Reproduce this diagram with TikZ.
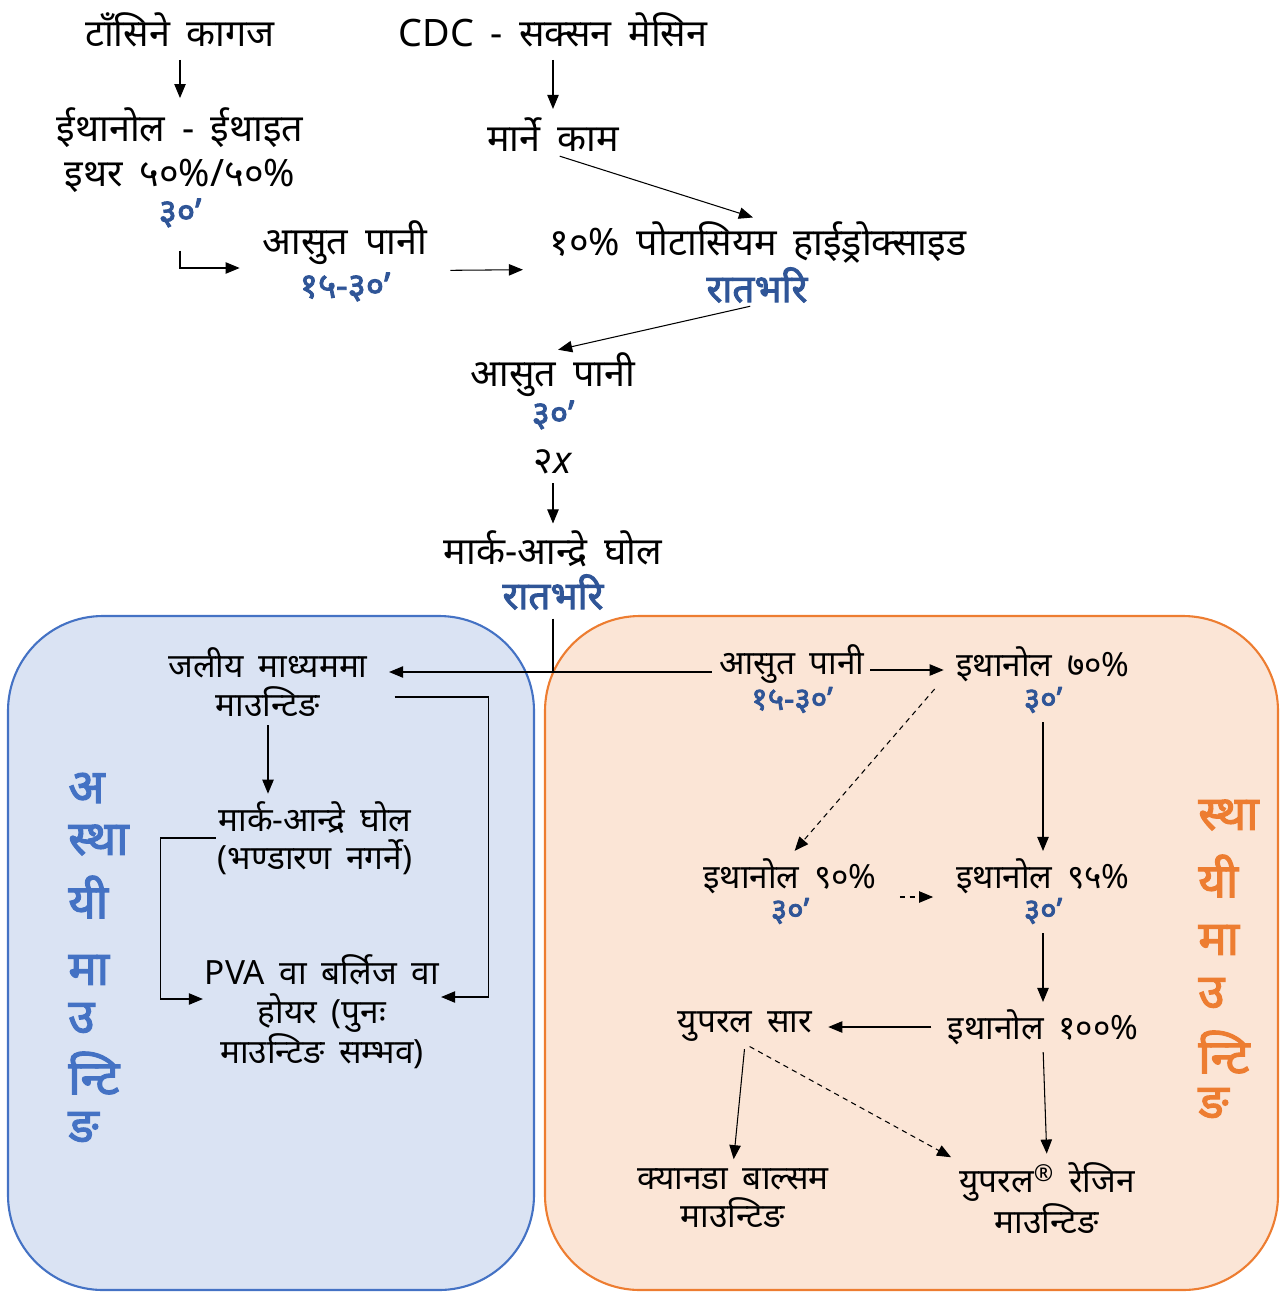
\documentclass[tikz,border=0pt]{standalone}
\usepackage{fontspec}
\setmainfont[Script=Devanagari, WordSpace=1.7, BoldFont={Noto Sans}, BoldFeatures={FakeBold=2.5}]{Noto Sans}
\usetikzlibrary{arrows.meta}

\definecolor{stepblue}{HTML}{2F5597}
\definecolor{tempblue}{HTML}{4472C4}
\definecolor{tempfill}{HTML}{DAE3F3}
\definecolor{permorange}{HTML}{ED7D31}
\definecolor{permfill}{HTML}{FBE5D6}

\begin{document}
\begin{tikzpicture}[x=0.02cm, y=-0.02cm,
    txt/.style={font=\fontsize{21.5}{26}\selectfont, align=center, inner sep=1pt},
    boxtxt/.style={font=\fontsize{19}{22}\selectfont, align=center, inner sep=1pt},
    tm/.style={font=\fontsize{20}{22}\selectfont\bfseries, text=stepblue, inner sep=1pt},
    boxtm/.style={tm, font=\fontsize{18}{20}\selectfont\bfseries},
    night/.style={font=\fontsize{22}{24}\selectfont\bfseries, text=stepblue, inner sep=1pt},
    arr/.style={-{Triangle[length=8pt,width=6.5pt]}, line width=0.6pt},
    dasharr/.style={arr, dash pattern=on 3pt off 2.5pt}]
  \useasboundingbox (0,0) rectangle (1282,1292);

  % the two mounting boxes
  \draw[tempblue, fill=tempfill, line width=1.2pt, rounded corners=1.9cm] (8,616) rectangle (534,1290);
  \draw[permorange, fill=permfill, line width=1.2pt, rounded corners=1.9cm] (545,616) rectangle (1278,1290);

  \foreach \s/\y [count=\i] in {अ/788, स्था/840, यी/897, मा/970, उ/1018, न्टि/1073, ङ/1127}
    \node[font=\fontsize{27}{30}\selectfont\bfseries, text=tempblue, anchor=west, inner sep=0pt] (temp\i) at (68,\y) {\s};
  \foreach \s/\y [count=\i] in {स्था/815, यी/876, मा/940, उ/993, न्टि/1052, ङ/1103}
    \node[font=\fontsize{27}{30}\selectfont\bfseries, text=permorange, anchor=west, inner sep=0pt] (perm\i) at (1198,\y) {\s};

  % top part
  \node[txt] (kagaj) at (180,30) {टाँसिने कागज};
  \node[txt] (cdc) at (553,30) {CDC - सक्सन मेसिन};
  \node[txt] (ethr) at (180,150) {ईथानोल - ईथाइत\\इथर ५०\%/५०\%};
  \node[tm] (ethr-t) at (180,213) {३०’};
  \node[txt] (marne) at (553,135) {मार्ने काम};
  \node[txt] (aasut1) at (345,243) {आसुत पानी};
  \node[tm] (aasut1-t) at (345,287) {१५-३०’};
  \node[txt] (koh) at (758,242) {१०\% पोटासियम हाईड्रोक्साइड};
  \node[night] (koh-t) at (757,285) {रातभरि};
  \node[txt] (aasut2) at (553,375) {आसुत पानी};
  \node[tm] (aasut2-t) at (553,415) {३०’};
  \node[txt] (twice) at (553,462) {२\textit{x}};
  \node[txt] (mark) at (553,549) {मार्क-आन्द्रे घोल};
  \node[night] (mark-t) at (553,592) {रातभरि};
  \coordinate (split) at (553,672);

  % temporary mounting
  \node[boxtxt] (jaliya) at (268,682) {जलीय माध्यममा\\माउन्टिङ};
  \node[boxtxt] (mark2) at (315,838) {मार्क-आन्द्रे घोल\\(भण्डारण नगर्ने)};
  \node[boxtxt] (pva) at (322,1012) {PVA वा बर्लिज वा\\होयर (पुनः\\माउन्टिङ सम्भव)};

  % permanent mounting
  \node[boxtxt] (aasut3) at (792,664) {आसुत पानी};
  \node[boxtm] (aasut3-t) at (792,700) {१५-३०’};
  \node[boxtxt] (eth70) at (1043,664) {इथानोल ७०\%};
  \node[boxtm] (eth70-t) at (1043,700) {३०’};
  \node[boxtxt] (eth90) at (790,876) {इथानोल ९०\%};
  \node[boxtm] (eth90-t) at (790,911) {३०’};
  \node[boxtxt] (eth95) at (1043,876) {इथानोल ९५\%};
  \node[boxtm] (eth95-t) at (1043,911) {३०’};
  \node[boxtxt] (eth100) at (1043,1027) {इथानोल १००\%};
  \node[boxtxt] (saar) at (745,1027) {युपरल सार};
  \node[boxtxt] (balsam) at (733,1198) {क्यानडा बाल्सम\\माउन्टिङ};
  \node[boxtxt] (resin) at (1047,1198) {युपरल\textsuperscript{®} रेजिन\\माउन्टिङ};

  \draw[arr, shorten <=6pt, shorten >=4pt] (kagaj.south) -- (ethr.north);
  \draw[arr, shorten <=6pt, shorten >=4pt] (cdc.south) -- (marne.north);
  \draw[arr, shorten <=4pt, shorten >=3pt] (marne.south) -- (koh.north);
  \draw[arr, shorten <=12pt, shorten >=12pt] (ethr-t.south) |- ([yshift=-0.5cm]aasut1.west);
  \draw[arr, shorten <=12pt, shorten >=14pt] ([yshift=-0.55cm]aasut1.east) -- ([yshift=-0.55cm]koh.west);
  \draw[arr, shorten <=4pt, shorten >=3pt] (koh-t.south) -- (aasut2.north);
  \draw[arr, shorten <=4pt, shorten >=3pt] (twice.south) -- (mark.north);
  \draw[line width=0.6pt, shorten <=4pt] (mark-t.south) -- (split);
  \draw[arr, {Triangle[length=8pt,width=6.5pt]}-, shorten <=11pt, shorten >=3pt] (jaliya.east |- split) -- (aasut3.west |- split);

  \draw[arr, shorten <=4pt, shorten >=3pt] (jaliya.south) -- (jaliya.south |- mark2.north);
  \draw[arr] (mark2.west) -- ++(-55,0) |- ([yshift=0.26cm]pva.west);
  \draw[arr] ([xshift=0.5cm, yshift=-0.3cm]jaliya.east) -- ++(94,0) |- ([yshift=0.3cm]pva.east);

  \draw[arr, shorten <=2pt, shorten >=6pt] ([yshift=-0.12cm]aasut3.east) -- ([yshift=-0.12cm]eth70.west);
  \draw[dasharr, shorten <=4pt, shorten >=4pt] ([xshift=-0.3cm]eth70.south west) -- (eth90.north);
  \draw[arr, shorten <=4pt, shorten >=3pt] (eth70-t.south) -- (eth95.north);
  \draw[dasharr, shorten <=12pt, shorten >=12pt] ([yshift=-0.42cm]eth90.east) -- ([yshift=-0.42cm]eth95.west);
  \draw[arr, shorten <=4pt, shorten >=3pt] (eth95-t.south) -- (eth100.north);
  \draw[arr, shorten <=8pt, shorten >=8pt] (eth100.west) -- (saar.east);
  \draw[arr, shorten <=3pt, shorten >=4pt] (saar.south) -- (balsam.north);
  \draw[dasharr, shorten <=3pt, shorten >=4pt] (saar.south) -- (resin.north west);
  \draw[arr, shorten <=3pt, shorten >=4pt] (eth100.south) -- (resin.north);
\end{tikzpicture}
\end{document}
